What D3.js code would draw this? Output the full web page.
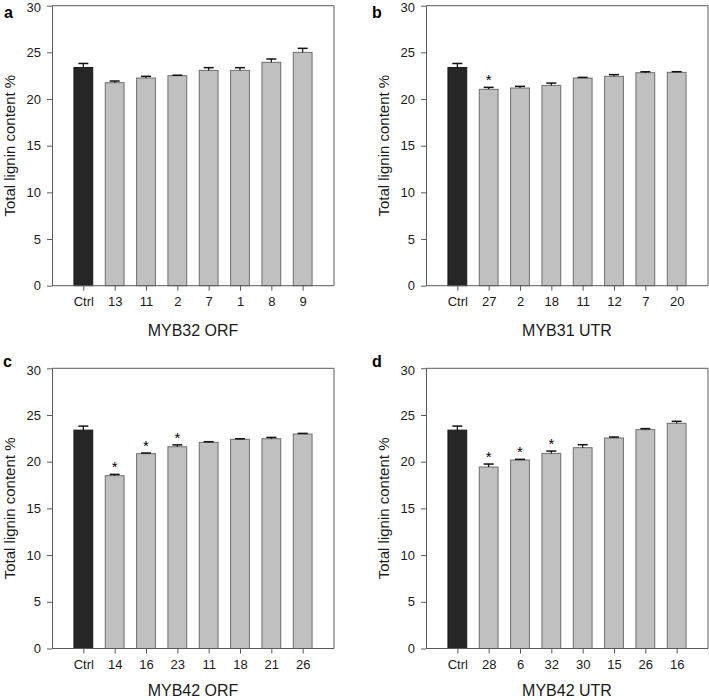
<!DOCTYPE html>
<html>
<head>
<meta charset="utf-8">
<script src="https://cdn.jsdelivr.net/npm/d3@7"></script>
<style>
  html, body { margin: 0; padding: 0; background: #fff; }
  svg { display: block; font-family: Arial, "Liberation Sans", sans-serif; }
</style>
</head>
<body>
<svg id="chart" width="709" height="700"></svg>
<script>
// ---- data ----
const yTicks = [0, 5, 10, 15, 20, 25, 30];

const catsA = ["Ctrl", "13", "11", "2", "7", "1", "8", "9"];
const valsA = [23.38, 21.75, 22.25, 22.5, 23.07, 23.07, 23.93, 25.0];
const errsA = [0.43, 0.18, 0.18, 0.05, 0.29, 0.29, 0.36, 0.43];
const sigA  = [false, false, false, false, false, false, false, false];

const catsB = ["Ctrl", "27", "2", "18", "11", "12", "7", "20"];
const valsB = [23.38, 21.04, 21.18, 21.46, 22.25, 22.43, 22.82, 22.86];
const errsB = [0.43, 0.21, 0.18, 0.25, 0.07, 0.18, 0.1, 0.07];
const sigB  = [false, true, false, false, false, false, false, false];

const catsC = ["Ctrl", "14", "16", "23", "11", "18", "21", "26"];
const valsC = [23.38, 18.5, 20.86, 21.6, 22.07, 22.39, 22.46, 22.96];
const errsC = [0.43, 0.14, 0.07, 0.2, 0.07, 0.07, 0.14, 0.07];
const sigC  = [false, true, true, true, false, false, false, false];

const catsD = ["Ctrl", "28", "6", "32", "30", "15", "26", "16"];
const valsD = [23.38, 19.43, 20.18, 20.89, 21.5, 22.54, 23.43, 24.11];
const errsD = [0.43, 0.32, 0.07, 0.25, 0.32, 0.1, 0.11, 0.21];
const sigD  = [false, true, true, true, false, false, false, false];

const panelLetters = ["a", "b", "c", "d"];
const xTitles = ["MYB32 ORF", "MYB31 UTR", "MYB42 ORF", "MYB42 UTR"];
const yTitle = "Total lignin content %";

// ---- layout ----
const svg = d3.select("#chart");
const panels = [
  {cats: catsA, vals: valsA, errs: errsA, sig: sigA, x0: 52, x1: 334, y0: 5.7, y1: 285.7, lx: 4, ly: 18, tOff: 50.5},
  {cats: catsB, vals: valsB, errs: errsB, sig: sigB, x0: 426, x1: 708, y0: 5.7, y1: 285.7, lx: 372, ly: 18, tOff: 50.5},
  {cats: catsC, vals: valsC, errs: errsC, sig: sigC, x0: 52, x1: 334, y0: 368.3, y1: 648.5, lx: 3, ly: 367, tOff: 47.5},
  {cats: catsD, vals: valsD, errs: errsD, sig: sigD, x0: 426, x1: 708, y0: 368.3, y1: 648.5, lx: 372, ly: 367, tOff: 47.5}
];

const axisCol = "#5a5a5a";
const textCol = "#1a1a1a";

panels.forEach((p, i) => {
  const g = svg.append("g");
  const x = d3.scalePoint().domain(p.cats).range([p.x0, p.x1]).padding(1);
  const y = d3.scaleLinear().domain([0, 30]).range([p.y1, p.y0]);
  const bw = x.step() * 0.6;

  // frame (top & right)
  g.append("path")
    .attr("d", `M${p.x0},${y(30)}H${p.x1}V${y(0)}`)
    .attr("fill", "none").attr("stroke", axisCol).attr("stroke-width", 1);

  // bars
  const data = p.cats.map((c, k) => ({c, v: p.vals[k], e: p.errs[k], s: p.sig[k], ctrl: k === 0}));
  g.selectAll("rect.bar").data(data).enter().append("rect")
    .attr("class", "bar")
    .attr("x", d => x(d.c) - bw / 2)
    .attr("width", bw)
    .attr("y", d => y(d.v))
    .attr("height", d => y(0) - y(d.v))
    .attr("fill", d => d.ctrl ? "#262626" : "#c0c0c0")
    .attr("stroke", d => d.ctrl ? "#1a1a1a" : "#6e6e6e")
    .attr("stroke-width", 1);

  // error bars (upper)
  const eb = g.selectAll("g.err").data(data).enter().append("g").attr("class", "err");
  eb.append("line")
    .attr("x1", d => x(d.c)).attr("x2", d => x(d.c))
    .attr("y1", d => y(d.v)).attr("y2", d => y(d.v + d.e))
    .attr("stroke", "#111").attr("stroke-width", 1.2);
  eb.append("line")
    .attr("x1", d => x(d.c) - 5).attr("x2", d => x(d.c) + 5)
    .attr("y1", d => y(d.v + d.e)).attr("y2", d => y(d.v + d.e))
    .attr("stroke", "#111").attr("stroke-width", 1.5);

  // significance asterisks
  g.selectAll("text.sig").data(data.filter(d => d.s)).enter().append("text")
    .attr("class", "sig")
    .attr("x", d => x(d.c))
    .attr("y", d => y(d.v + d.e) - 2)
    .attr("text-anchor", "middle")
    .attr("font-size", 15)
    .attr("fill", "#000")
    .text("*");

  // y axis
  const ya = g.append("g").attr("transform", `translate(${p.x0},0)`)
    .call(d3.axisLeft(y).tickValues(yTicks).tickSize(5).tickPadding(6).tickSizeOuter(0));
  ya.select(".domain").attr("stroke", axisCol);
  ya.selectAll(".tick line").attr("stroke", axisCol);
  ya.selectAll(".tick text").attr("font-size", 13).attr("fill", textCol)
    .attr("font-family", "Arial, 'Liberation Sans', sans-serif")
    .attr("dy", d => d === 30 ? "0.45em" : "0.32em");

  // x axis
  const xa = g.append("g").attr("transform", `translate(0,${p.y1})`)
    .call(d3.axisBottom(x).tickSize(5).tickPadding(6).tickSizeOuter(0));
  xa.select(".domain").attr("stroke", axisCol).attr("d", `M${p.x0},0H${p.x1}`);
  xa.selectAll(".tick line").attr("stroke", axisCol);
  xa.selectAll(".tick text").attr("font-size", 13).attr("fill", textCol)
    .attr("font-family", "Arial, 'Liberation Sans', sans-serif");

  // x title
  g.append("text")
    .attr("x", (p.x0 + p.x1) / 2)
    .attr("y", p.y1 + p.tOff)
    .attr("text-anchor", "middle")
    .attr("font-size", 16)
    .attr("fill", textCol)
    .text(xTitles[i]);

  // y title
  g.append("text")
    .attr("transform", `translate(${p.x0 - 37},${(p.y0 + p.y1) / 2}) rotate(-90)`)
    .attr("text-anchor", "middle")
    .attr("font-size", 15)
    .attr("fill", textCol)
    .text(yTitle);

  // panel letter
  g.append("text")
    .attr("x", p.lx).attr("y", p.ly)
    .attr("font-size", 16)
    .attr("font-weight", "bold")
    .attr("fill", "#000")
    .text(panelLetters[i]);
});
</script>
</body>
</html>
